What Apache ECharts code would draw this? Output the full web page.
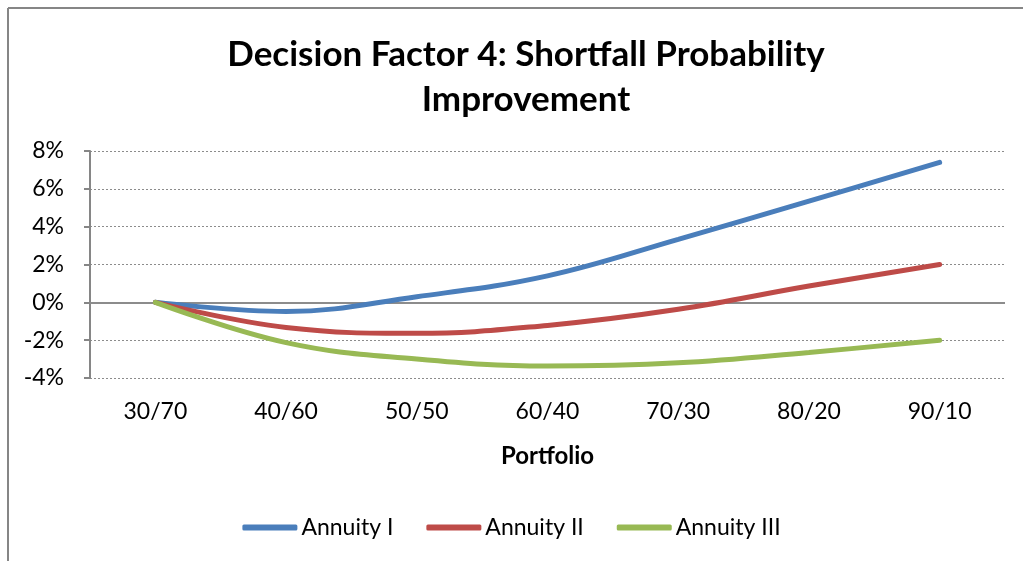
<!DOCTYPE html>
<html>
<head>
<meta charset="utf-8">
<script src="https://cdn.jsdelivr.net/npm/echarts@6/dist/echarts.min.js"></script>
<style>html,body{margin:0;padding:0;background:#fff}#c{width:1023px;height:561px}</style>
</head>
<body>
<div id="c"></div>
<script>
const categories = ['30/70','40/60','50/50','60/40','70/30','80/20','90/10'];
const annuityI = [0.0, -0.48, 0.3, 1.4, 3.33, 5.35, 7.4];
const annuityII = [0.0, -1.33, -1.64, -1.22, -0.37, 0.86, 2.0];
const annuityIII = [0.0, -2.13, -3.0, -3.37, -3.2, -2.65, -2.0];
const seriesNames = ['Annuity I','Annuity II','Annuity III'];
const colors = ['#4A7EBB','#BE4B48','#98B954'];
const F = 'Lato, "Open Sans", sans-serif';

const chart = echarts.init(document.getElementById('c'), null, {renderer:'canvas'});
const mk = (name, data, color, extra) => Object.assign({
  name, type:'line', data, smooth:0.4, symbol:'none',
  lineStyle:{color, width:5, cap:'round'}, itemStyle:{color}, z:3
}, extra||{});
chart.setOption({
  animation:false,
  backgroundColor:'#fff',
  title:{
    text:'Decision Factor 4: Shortfall Probability\nImprovement',
    left:521, top:27, textAlign:'center',
    textStyle:{fontFamily:F, fontWeight:'bold', fontSize:35, lineHeight:45, color:'#000'}
  },
  grid:{left:90, right:18, top:151, bottom:183, containLabel:false},
  legend:{
    data:seriesNames, top:511, left:'center',
    icon:'roundRect', itemWidth:55, itemHeight:6, itemGap:33,
    textStyle:{fontFamily:F, fontSize:23, color:'#000', padding:[0,0,0,-1]}
  },
  xAxis:{
    type:'category', data:categories, boundaryGap:true,
    name:'Portfolio', nameLocation:'middle', nameGap:66,
    nameTextStyle:{fontFamily:F, fontWeight:'bold', fontSize:24, color:'#000'},
    axisLine:{show:false, onZero:false}, axisTick:{show:false},
    axisLabel:{fontFamily:F, fontSize:23, color:'#000', margin:22}
  },
  yAxis:{
    type:'value', min:-4, max:8, interval:2,
    axisLine:{show:true, lineStyle:{color:'#868686', width:2}},
    axisTick:{show:true, inside:false, length:6, lineStyle:{color:'#868686', width:2}},
    axisLabel:{fontFamily:F, fontSize:23, color:'#000', margin:26, formatter: v => v + '%'},
    splitLine:{show:true, lineStyle:{color:'#8c8c8c', type:[2,2], width:1}}
  },
  series:[
    mk(seriesNames[0], annuityI, colors[0], {
      markLine:{silent:true, symbol:'none', label:{show:false},
        lineStyle:{color:'#8c8c8c', type:'solid', width:2}, data:[{yAxis:0}], z:2}
    }),
    mk(seriesNames[1], annuityII, colors[1]),
    mk(seriesNames[2], annuityIII, colors[2])
  ],
  graphic:[
    {type:'line', shape:{x1:8, y1:8, x2:1023, y2:8}, style:{stroke:'#868686', lineWidth:2}},
    {type:'line', shape:{x1:8, y1:8, x2:8, y2:561}, style:{stroke:'#868686', lineWidth:2}}
  ]
});
</script>
</body>
</html>
